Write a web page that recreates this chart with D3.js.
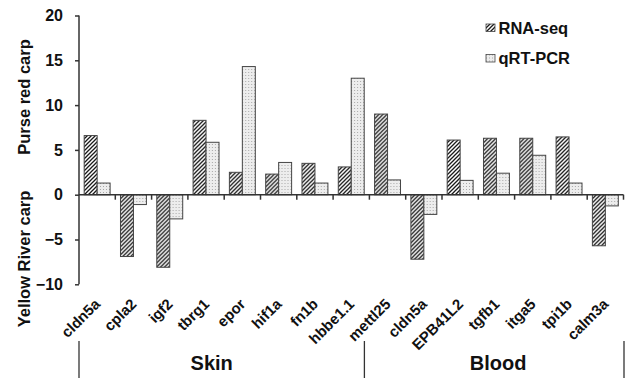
<!DOCTYPE html>
<html>
<head>
<meta charset="utf-8">
<script src="https://cdn.jsdelivr.net/npm/d3@7"></script>
<style>
  body { margin: 0; background: #fff; }
  text { font-family: "Liberation Sans", Arial, sans-serif; font-weight: bold; }
</style>
</head>
<body>
<div id="chart"></div>
<script>
// genes, in drawing order (cldn5a appears in both tissues)
var genes = ['cldn5a', 'cpla2', 'igf2', 'tbrg1', 'epor', 'hif1a', 'fn1b', 'hbbe1.1',
	'mettl25', 'cldn5a', 'EPB41L2', 'tgfb1', 'itga5', 'tpi1b', 'calm3a']
var rnaSeq = [6.6, -6.9, -8.1, 8.3, 2.5, 2.3, 3.5, 3.1, 9.0, -7.2, 6.1, 6.3, 6.3, 6.45, -5.7]
var qrtPcr = [1.3, -1.1, -2.7, 5.85, 14.3, 3.6, 1.3, 13.0, 1.65, -2.2, 1.6, 2.4, 4.4, 1.3, -1.25]
var seriesNames = ['RNA-seq', 'qRT-PCR']
var yTicks = [-10, -5, 0, 5, 10, 15, 20]
var tissues = ['Skin', 'Blood']

var W = 633, H = 378
var svg = d3.select('#chart').append('svg')
	.attr('width', W)
	.attr('height', H)

var defs = svg.append('defs')
// diagonal hatch for RNA-seq
var hatch = defs.append('pattern')
	.attr('id', 'hatch')
	.attr('patternUnits', 'userSpaceOnUse')
	.attr('width', 4).attr('height', 4)
hatch.append('rect').attr('width', 4).attr('height', 4).attr('fill', '#fff')
hatch.append('path')
	.attr('d', 'M-1,1 l2,-2 M0,4 l4,-4 M3,5 l2,-2')
	.attr('stroke', '#1a1a1a')
	.attr('stroke-width', 1.3)
// dotted grey for qRT-PCR
var dots = defs.append('pattern')
	.attr('id', 'dots')
	.attr('patternUnits', 'userSpaceOnUse')
	.attr('width', 3).attr('height', 3)
dots.append('rect').attr('width', 3).attr('height', 3).attr('fill', '#ededed')
dots.append('rect').attr('width', 1).attr('height', 1).attr('fill', '#a8a8a8')

var fills = ['url(#hatch)', 'url(#dots)']
var axisColor = '#333'

var x0 = d3.scaleBand()
	.domain(d3.range(genes.length))
	.range([79, 623.5])
var x1 = d3.scaleBand()
	.domain([0, 1])
	.range([0, x0.bandwidth()])
	.paddingOuter(0.4)
var y = d3.scaleLinear()
	.domain([-10, 20])
	.range([284.3, 15.5])

// bars
var groups = svg.append('g').selectAll('g')
	.data(genes.map((g, i) => ({ gene: g, i: i, vals: [rnaSeq[i], qrtPcr[i]] })))
	.enter().append('g')
	.attr('transform', (d) => `translate(${x0(d.i)},0)`)

groups.selectAll('rect')
	.data((d) => d.vals.map((v, k) => ({ v: v, k: k })))
	.enter().append('rect')
	.attr('x', (d) => x1(d.k))
	.attr('width', x1.bandwidth())
	.attr('y', (d) => y(Math.max(0, d.v)))
	.attr('height', (d) => Math.abs(y(d.v) - y(0)))
	.attr('fill', (d) => fills[d.k])
	.attr('stroke', '#444')
	.attr('stroke-width', 1)

// y axis
var yAxis = svg.append('g')
	.attr('transform', 'translate(79,0)')
	.call(d3.axisLeft(y).tickValues(yTicks).tickSize(4).tickPadding(12))
yAxis.select('.domain').attr('stroke', axisColor).attr('stroke-width', 1.5)
	.attr('d', `M0,${y(-10)}V${y(20)}`)
yAxis.selectAll('.tick line').attr('stroke', axisColor).attr('stroke-width', 1.5)
yAxis.selectAll('.tick text')
	.attr('fill', '#111')
	.style('font-size', '16px')
	.style('font-family', '"Liberation Sans", Arial, sans-serif')
	.style('font-weight', 'bold')

// zero line with category ticks
var xAxis = svg.append('g')
xAxis.append('line')
	.attr('x1', 79).attr('x2', 623.5)
	.attr('y1', y(0)).attr('y2', y(0))
	.attr('stroke', axisColor).attr('stroke-width', 1.5)
xAxis.selectAll('line.tk')
	.data(d3.range(1, genes.length + 1))
	.enter().append('line')
	.attr('class', 'tk')
	.attr('x1', (i) => x0.range()[0] + i * x0.step())
	.attr('x2', (i) => x0.range()[0] + i * x0.step())
	.attr('y1', y(0)).attr('y2', y(0) + 5)
	.attr('stroke', axisColor).attr('stroke-width', 1.5)

// rotated gene labels
svg.append('g').selectAll('text')
	.data(genes)
	.enter().append('text')
	.attr('text-anchor', 'end')
	.attr('font-size', '15px')
	.attr('fill', '#111')
	.attr('transform', (d, i) => `translate(${x0(i) + x0.bandwidth() / 2 + 4},305) rotate(-45)`)
	.text((d) => d)

// tissue brackets
var sepX = [79, x0(8) - 5, 624]
var labelShift = [-10, 4]
svg.append('g').selectAll('line')
	.data(sepX)
	.enter().append('line')
	.attr('x1', (d) => d).attr('x2', (d) => d)
	.attr('y1', 341).attr('y2', H)
	.attr('stroke', axisColor).attr('stroke-width', 1.3)
svg.append('g').selectAll('text')
	.data(tissues)
	.enter().append('text')
	.attr('text-anchor', 'middle')
	.attr('font-size', '20px')
	.attr('fill', '#111')
	.attr('x', (d, i) => (sepX[i] + sepX[i + 1]) / 2 + labelShift[i])
	.attr('y', 370)
	.text((d) => d)

// axis titles
svg.append('text')
	.attr('text-anchor', 'middle')
	.attr('font-size', '16.5px')
	.attr('fill', '#111')
	.attr('transform', 'translate(30,97) rotate(-90)')
	.text('Purse red carp')
svg.append('text')
	.attr('text-anchor', 'middle')
	.attr('font-size', '16.5px')
	.attr('fill', '#111')
	.attr('transform', 'translate(30,259) rotate(-90)')
	.text('Yellow River carp')

// legend
var legend = svg.append('g').selectAll('g')
	.data(seriesNames)
	.enter().append('g')
	.attr('transform', (d, i) => `translate(486,${24 + i * 30.5})`)
legend.append('rect')
	.attr('width', 9).attr('height', 7.5)
	.attr('fill', (d, i) => fills[i])
	.attr('stroke', '#444')
	.attr('stroke-width', 0.8)
legend.append('text')
	.attr('x', 12.5).attr('y', 9.5)
	.attr('font-size', '16.5px')
	.attr('fill', '#111')
	.text((d) => d)
</script>
</body>
</html>
